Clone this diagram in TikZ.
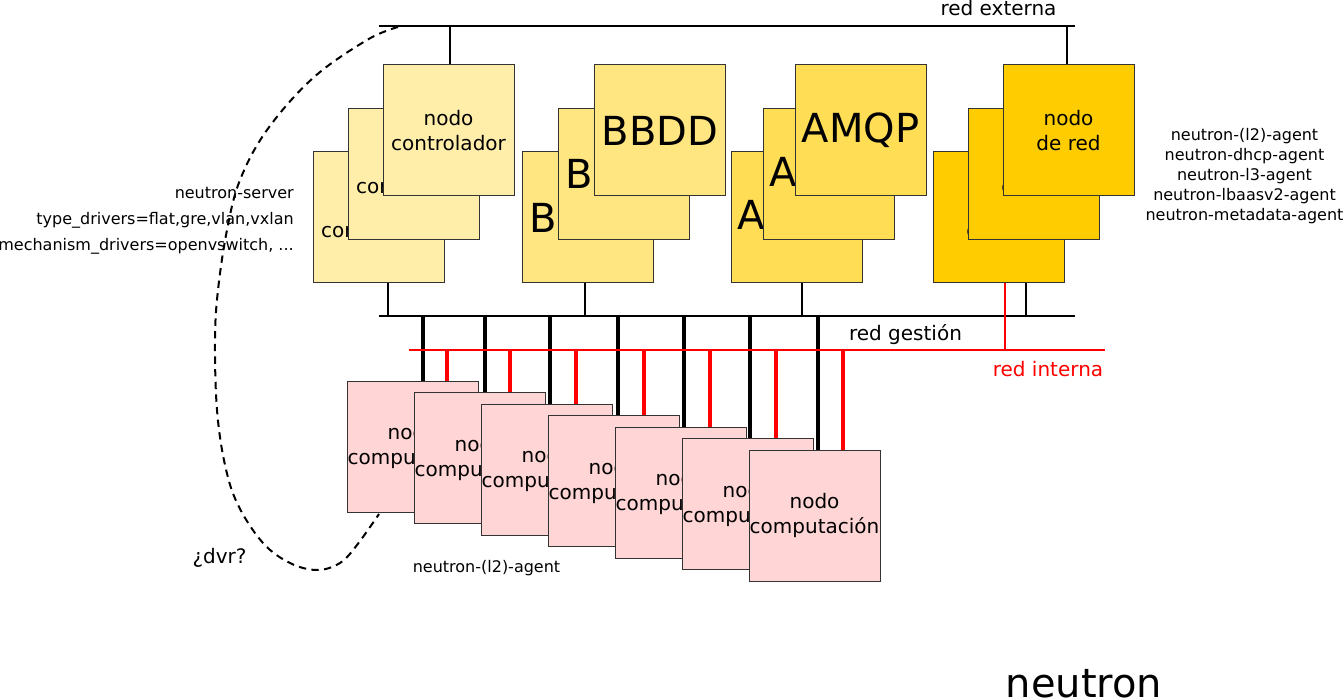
\documentclass[tikz,border=0pt]{standalone}
\usepackage{fontspec}
\setmainfont{DejaVu Sans}
\usetikzlibrary{calc}
\definecolor{ctrl}{HTML}{FFEEAA}
\definecolor{bbdd}{HTML}{FFE680}
\definecolor{amqp}{HTML}{FFDD55}
\definecolor{rednode}{HTML}{FFCC00}
\definecolor{comp}{HTML}{FFD5D5}
\definecolor{netred}{HTML}{FF0000}
\begin{document}
\begin{tikzpicture}[x=0.75pt,y=-0.75pt,
  box/.style={draw=black!80, line width=0.75pt, minimum width=98.25pt, minimum height=98.25pt,
    inner sep=0pt, align=center, font=\fontsize{15}{18.75}\selectfont},
  bigbox/.style={box, font=\fontsize{30}{36}\selectfont},
  net/.style={line width=1.5pt},
  link/.style={line width=1.5pt},
  clink/.style={line width=2.6pt},
  rlink/.style={line width=2.4pt, draw=netred},
  lbl/.style={font=\fontsize{15}{18.75}\selectfont, inner sep=0pt},
  small/.style={font=\fontsize{12}{15}\selectfont, inner sep=0pt},
  dvr/.style={dash pattern=on 5.5pt off 4pt, line width=1.5pt}]
\useasboundingbox (0,0) rectangle (1344,698);

% dashed dvr curve
\draw[dvr] plot[smooth, tension=0.6] coordinates {(398,27) (367,40) (313,78) (267,130) (240,180) (227,230) (218,290) (215,340) (217,410) (225,465) (238,505) (263,543) (290,563) (317,570) (340,563) (357,545) (379,514)};

% networks
\coordinate (ext1) at (379,26); \coordinate (ext2) at (1075,26);
\coordinate (gest1) at (379,316); \coordinate (gest2) at (1075,316);
\coordinate (int1) at (409,350); \coordinate (int2) at (1105,350);

% upper stacks
\node[box, fill=ctrl] (c1) at (378.5,217.5) {nodo\\controlador};
\node[box, fill=ctrl] (c2) at (413.5,174) {nodo\\controlador};
\node[box, fill=ctrl] (c3) at (448.5,130.5) {nodo\\controlador};
\node[bigbox, fill=bbdd] (b1) at (588,217.5) {BBDD};
\node[bigbox, fill=bbdd] (b2) at (624,174) {BBDD};
\node[bigbox, fill=bbdd] (b3) at (660,130.5) {BBDD};
\node[bigbox, fill=amqp] (a1) at (796.5,217.5) {AMQP};
\node[bigbox, fill=amqp] (a2) at (828.5,174) {AMQP};
\node[bigbox, fill=amqp] (a3) at (860.5,130.5) {AMQP};
\node[box, fill=rednode] (r1) at (998.5,217.5) {nodo\\de red};
\node[box, fill=rednode] (r2) at (1033.5,174) {nodo\\de red};
\node[box, fill=rednode] (r3) at (1068.5,130.5) {nodo\\de red};

% links to red externa
\draw[link] ($(c3.north)+(1.5,0)$) coordinate (t1) -- (t1 |- ext1);
\draw[link] ($(r3.north)+(-1.5,0)$) coordinate (t2) -- (t2 |- ext1);
% links to red gestion
\draw[link] ($(c1.south)+(9,0)$) coordinate (t3) -- (t3 |- gest1);
\draw[link] ($(b1.south)+(-3,0)$) coordinate (t4) -- (t4 |- gest1);
\draw[link] ($(a1.south)+(5.5,0)$) coordinate (t5) -- (t5 |- gest1);
\draw[link] ($(r1.south)+(27.5,0)$) coordinate (t6) -- (t6 |- gest1);

% compute links
\foreach \k/\bx/\rx in {0/10.5/34.5, 1/5.5/30.5, 2/3.5/29.5, 3/4.5/30.5, 4/3.5/29.5, 5/2.5/28.5, 6/3.5/28.5}{
  \coordinate (n\k) at (412.5+67*\k, 446.5+11.5*\k);
  \draw[clink] ($(n\k)+(\bx,-65.5)$) coordinate (cb\k) -- (cb\k |- gest1);
  \draw[rlink] ($(n\k)+(\rx,-65.5)$) coordinate (cr\k) -- (cr\k |- int1);
}
\draw[net] (ext1) -- (ext2);
\draw[net] (gest1) -- (gest2);
\draw[net, draw=netred] (int1) -- (int2);
\draw[link, line width=2pt, draw=netred] ($(r1.south)+(6.5,0)$) coordinate (t7) -- (t7 |- int1);

% compute nodes
\foreach \k in {0,...,6}{
  \node[box, fill=comp] (m\k) at (n\k) {nodo\\computación};
}

% labels
\node[lbl, anchor=base] (lext) at (998.5,15.5) {red externa};
\node[lbl, anchor=base] (lgest) at (905.5,340) {red gestión};
\node[lbl, anchor=base, text=netred] (lint) at (1048,376) {red interna};
\node[lbl, anchor=base] (ldvr) at (219.5,563) {¿dvr?};
\node[small, anchor=base] (ll2) at (486.5,572) {neutron-(l2)-agent};
\node[small, anchor=base east] (ls1) at (294,199) {neutron-server};
\node[small, anchor=base east] (ls2) at (294,225) {type\_drivers=flat,gre,vlan,vxlan};
\node[small, anchor=base east] (ls3) at (294,250.5) {mechanism\_drivers=openvswitch, ...};
\node[small, align=center] (lagents) at (1244.5,176) {neutron-(l2)-agent\\neutron-dhcp-agent\\neutron-l3-agent\\neutron-lbaasv2-agent\\neutron-metadata-agent};
\node[font=\fontsize{30}{36}\selectfont, inner sep=0pt, anchor=base] (ltitle) at (1084,697) {neutron};
\end{tikzpicture}
\end{document}
